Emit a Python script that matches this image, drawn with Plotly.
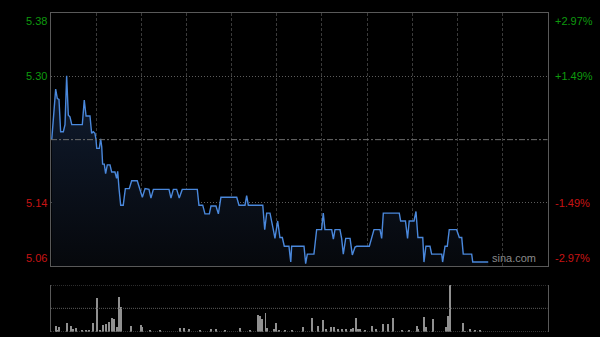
import plotly.graph_objects as go

# ---------------- data ----------------
prev_close = 5.22
y_min, y_max = 5.06, 5.38
left_labels = ["5.38", "5.30", "5.14", "5.06"]
left_vals = [5.38, 5.30, 5.14, 5.06]
right_labels = ["+2.97%", "+1.49%", "-1.49%", "-2.97%"]
session_minutes = 330
grid_minutes = [30, 60, 90, 120, 150, 180, 210, 240, 270, 300]

price_t = [0.5, 3.1, 4.2, 5.3, 6.4, 8.2, 9.3, 10.4, 11.5, 12.6, 13.8, 20.8, 22.1, 23.3, 25.9,
           27.0, 28.1, 29.2, 29.9, 30.4, 32.1, 33.0, 33.7, 34.3, 35.4, 36.3, 37.4, 39.2, 40.3,
           42.5, 43.6, 44.3, 45.2, 46.3, 48.0, 49.4, 52.0, 53.6, 57.3, 59.1, 60.7, 62.5, 65.1,
           66.4, 68.0, 78.4, 79.7, 81.3, 83.5, 85.2, 87.2, 97.2, 98.3, 100.8, 102.3, 105.2,
           106.3, 109.6, 111.2, 112.9, 123.4, 124.9, 128.9, 130.0, 131.1, 140.7, 142.0, 143.3,
           145.5, 147.7, 148.8, 150.6, 152.1, 153.7, 155.0, 158.1, 159.3, 159.9, 168.1, 169.2,
           170.3, 174.7, 176.5, 179.8, 180.9, 182.0, 186.5, 187.6, 188.7, 192.0, 193.1, 194.2,
           195.8, 198.7, 200.2, 202.0, 203.1, 211.5, 213.1, 214.6, 218.6, 219.7, 220.8, 231.4,
           232.3, 235.5, 236.9, 238.0, 241.2, 242.5, 243.8, 247.0, 247.8, 249.1, 251.8, 252.9,
           259.6, 260.2, 261.8, 263.3, 264.6, 269.5, 271.3, 272.9, 273.9, 279.5, 280.2, 290.5]
price_v = [5.220, 5.284, 5.272, 5.271, 5.230, 5.230, 5.239, 5.301, 5.251, 5.249, 5.239, 5.239,
           5.270, 5.250, 5.250, 5.228, 5.230, 5.228, 5.220, 5.209, 5.209, 5.221, 5.211, 5.189,
           5.189, 5.177, 5.188, 5.188, 5.179, 5.179, 5.171, 5.180, 5.158, 5.137, 5.137, 5.158,
           5.158, 5.168, 5.168, 5.158, 5.147, 5.158, 5.157, 5.146, 5.157, 5.157, 5.146, 5.157,
           5.157, 5.146, 5.157, 5.157, 5.137, 5.137, 5.126, 5.126, 5.136, 5.136, 5.126, 5.147,
           5.147, 5.137, 5.137, 5.149, 5.137, 5.137, 5.106, 5.127, 5.127, 5.106, 5.095, 5.117,
           5.096, 5.096, 5.085, 5.085, 5.065, 5.085, 5.085, 5.063, 5.075, 5.075, 5.106, 5.106,
           5.127, 5.106, 5.106, 5.094, 5.106, 5.106, 5.095, 5.075, 5.095, 5.095, 5.074, 5.084,
           5.085, 5.085, 5.096, 5.106, 5.106, 5.095, 5.127, 5.127, 5.117, 5.117, 5.095, 5.117,
           5.117, 5.129, 5.096, 5.096, 5.065, 5.085, 5.085, 5.075, 5.075, 5.065, 5.085, 5.085,
           5.106, 5.106, 5.096, 5.096, 5.075, 5.075, 5.065, 5.065]

vol_t = [3.3, 4.2, 5.5, 10.4, 13.3, 14.4, 16.6, 20.6, 23.3, 25.2, 28.1, 30.4, 32.6, 34.7, 36.5,
         38.3, 40.3, 41.9, 44.0, 45.4, 46.5, 53.0, 59.6, 60.5, 65.8, 72.4, 85.7, 88.4, 91.5,
         99.0, 106.1, 109.6, 115.6, 125.6, 132.2, 137.7, 138.9, 140.0, 142.6, 143.3, 148.2,
         149.5, 151.7, 155.5, 160.1, 167.6, 173.2, 177.6, 180.9, 182.7, 185.8, 188.0, 190.5,
         193.1, 195.8, 199.1, 200.8, 202.4, 204.2, 205.5, 208.6, 213.1, 215.9, 220.8, 224.1,
         227.4, 233.0, 238.0, 243.0, 244.0, 247.8, 249.1, 253.6, 254.0, 262.2, 263.6, 265.3,
         273.9, 275.1, 278.4, 281.7, 285.0]
vol_v = [60, 17, 44, 90, 57, 30, 40, 10, 10, 12, 90, 334, 17, 64, 74, 100, 134, 127, 50, 350,
         250, 60, 67, 44, 10, 12, 34, 40, 24, 10, 24, 24, 10, 34, 10, 167, 157, 127, 190, 34, 24,
         90, 17, 10, 10, 44, 140, 60, 117, 30, 44, 44, 24, 24, 24, 30, 34, 134, 24, 24, 10, 60,
         24, 77, 77, 134, 17, 17, 60, 24, 144, 44, 34, 124, 44, 157, 467, 90, 7, 24, 10, 10]
vol_max = 467

# ---------------- styling ----------------
GREEN = "#0e9a0e"
RED = "#c81414"
BORDER = "#595959"
FONT = "Liberation Sans, Arial, sans-serif"

fig = go.Figure()

fig.add_trace(go.Scatter(
    x=price_t, y=price_v, mode="lines",
    line=dict(color="#4a88dc", width=1.4),
    fill="tozeroy",
    fillgradient=dict(type="vertical",
                      colorscale=[[0, "rgba(6,8,12,1)"], [1, "rgba(16,28,48,1)"]],
                      start=y_min, stop=5.30),
    hoverinfo="skip", xaxis="x", yaxis="y", showlegend=False))

fig.add_trace(go.Bar(
    x=vol_t, y=vol_v, width=0.5, marker=dict(color="#909090", line=dict(width=0)),
    hoverinfo="skip", xaxis="x2", yaxis="y2", showlegend=False))

shapes = []
# previous close line (dash-dot)
shapes.append(dict(type="line", xref="x", yref="y", x0=0, x1=session_minutes,
                   y0=prev_close, y1=prev_close,
                   line=dict(color="#6e6e6e", width=1, dash="6px,2px,2px,2px")))
# volume panel horizontal dotted lines
for v in [0, vol_max / 2, vol_max]:
    shapes.append(dict(type="line", xref="x2", yref="y2", x0=0, x1=session_minutes,
                       y0=v, y1=v, line=dict(color="#5a5a5a", width=1, dash="1px,1px")))

annotations = []
for lab, val, col in zip(left_labels, left_vals, [GREEN, GREEN, RED, RED]):
    anchor = "top" if val == y_max else ("bottom" if val == y_min else "middle")
    annotations.append(dict(text=lab, xref="paper", yref="y", x=0.081, y=val,
                            xanchor="right", yanchor=anchor, showarrow=False,
                            font=dict(color=col, size=11, family=FONT)))
for lab, val, col in zip(right_labels, left_vals, [GREEN, GREEN, RED, RED]):
    anchor = "top" if val == y_max else ("bottom" if val == y_min else "middle")
    annotations.append(dict(text=lab, xref="paper", yref="y", x=0.921, y=val,
                            xanchor="left", yanchor=anchor, showarrow=False,
                            font=dict(color=col, size=11, family=FONT)))
annotations.append(dict(text="sina.com", xref="paper", yref="y", x=0.897, y=y_min,
                        xanchor="right", yanchor="bottom", showarrow=False,
                        font=dict(color="#8a8a8a", size=11, family=FONT)))

fig.update_layout(
    width=600, height=337,
    margin=dict(l=0, r=0, t=0, b=0),
    paper_bgcolor="#000000", plot_bgcolor="#000000",
    bargap=0,
    xaxis=dict(domain=[0.085, 0.9128], range=[0, session_minutes],
               tickvals=grid_minutes, showticklabels=False, ticks="",
               showgrid=True, gridcolor="#3a3a3a", griddash="3px,2px", gridwidth=1,
               showline=True, linecolor=BORDER, linewidth=1, mirror=True, zeroline=False),
    yaxis=dict(domain=[0.2107, 0.9605], range=[y_min, y_max],
               tickvals=[5.30, 5.14], showticklabels=False, ticks="",
               showgrid=True, gridcolor="#5c5c5c", griddash="1px,2px", gridwidth=1,
               showline=True, linecolor=BORDER, linewidth=1, mirror=True, zeroline=False),
    xaxis2=dict(domain=[0.085, 0.9128], range=[0, session_minutes], anchor="y2",
                showticklabels=False, ticks="", showgrid=False, showline=False, zeroline=False),
    yaxis2=dict(domain=[0.0157, 0.1543], range=[0, vol_max], anchor="x2",
                showticklabels=False, ticks="", showgrid=False,
                showline=True, linecolor=BORDER, linewidth=1, mirror=True, zeroline=False),
    shapes=shapes,
    annotations=annotations,
)

fig.write_html("out.html")
